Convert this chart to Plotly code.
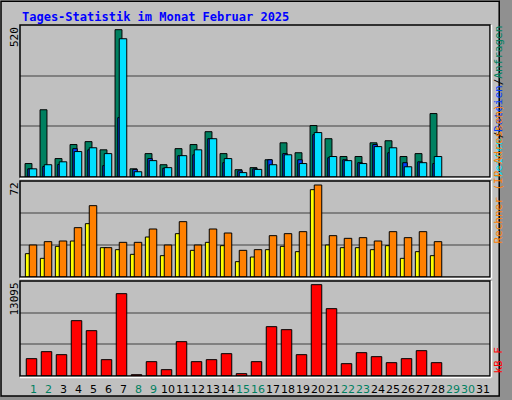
import plotly.graph_objects as go

days = list(range(1, 29))
anfragen = [46,230,63,111,121,93,504,28,80,42,97,111,155,80,25,32,59,117,83,176,131,70,70,117,124,70,80,217]
dateien  = [28,36,43,97,93,39,203,26,63,30,73,76,131,49,21,28,59,80,59,145,66,59,49,111,83,49,52,46]
seiten   = [28,42,52,87,100,80,473,18,56,32,73,93,131,63,15,26,42,76,46,152,70,56,46,104,100,35,49,70]
besuche  = [17.5,14,23,27,40,22,20.5,17,30,16,32.5,20,26,23.5,11.5,15,20.5,23,19,65.5,24,22,22,20.5,23.5,14,19,16]
rechner  = [24,26.5,27,37,53.5,22,26,26,36,24,41.5,24,36,33,20,20.5,31,32.5,34,69,31,29,29.5,27,34,29.5,34,26.5]
kbytes   = [2390,3354,2941,7628,6249,2252,11350,180,1976,873,4733,1976,2252,3079,322,1976,6800,6387,2941,12590,9282,1700,3217,2665,1838,2390,3492,1838]
day_labels = [str(d) for d in range(1, 32)]
weekend = {1,2,8,9,15,16,22,23,29,30}
max_top, max_mid, max_bot = 520, 72, 13095

W, H = 512, 400
def py(v): return 1 - v / H
x0, x1 = 0.113, 0.113 + 470/15

fig = go.Figure()
line = dict(color='black', width=1)
def bar(y, color, off, w, ax):
    fig.add_trace(go.Bar(x=days, y=y, offset=off, width=w, marker=dict(color=color, line=line),
                         xaxis='x', yaxis=ax, showlegend=False, hoverinfo='skip'))
bar(anfragen, '#008060', -0.55, 0.46, 'y')
bar(dateien, '#0040ff', -0.37, 0.3, 'y')
bar(seiten, '#00e0ff', -0.27, 0.5, 'y')
bar(besuche, '#ffff00', -0.53, 0.4, 'y2')
bar(rechner, '#ff8000', -0.27, 0.5, 'y2')
bar(kbytes, '#ff0000', -0.47, 0.7, 'y3')

panels = [(25, 177, max_top), (181, 277, max_mid), (281, 376, max_bot)]
ax_common = dict(showticklabels=False, gridcolor='#808080', gridwidth=1.5, zeroline=False, showline=False, fixedrange=True)
layout_axes = {}
for i, (t, b, m) in enumerate(panels):
    name = 'yaxis' if i == 0 else f'yaxis{i+1}'
    layout_axes[name] = dict(domain=[py(b), py(t)], range=[0, m], dtick=m/3, anchor='x', **ax_common)

shapes = [dict(type='rect', xref='paper', yref='paper', x0=0.975, x1=1, y0=0, y1=1, fillcolor='#909090', line=dict(width=0), layer='below'),
          dict(type='rect', xref='paper', yref='paper', x0=0, x1=1, y0=0, y1=0.01, fillcolor='#909090', line=dict(width=0), layer='below'),
          dict(type='rect', xref='paper', yref='paper', x0=0.002, x1=0.975, y0=0.01, y1=0.997,
               line=dict(color='black', width=1.5))]
for t, b, m in panels:
    shapes.append(dict(type='rect', xref='paper', yref='paper', x0=20/W, x1=490/W, y0=py(b), y1=py(t),
                       line=dict(color='black', width=1.5)))
    shapes.append(dict(type='line', xref='paper', yref='paper', x0=20/W, x1=491/W, y0=py(b+1.5), y1=py(b+1.5),
                       line=dict(color='white', width=1.5)))
    shapes.append(dict(type='line', xref='paper', yref='paper', x0=491.5/W, x1=491.5/W, y0=py(b+1.5), y1=py(t),
                       line=dict(color='white', width=1.5)))

ann = [dict(text='<b>Tages-Statistik im Monat Februar 2025</b>', x=20/W, y=py(8), xref='paper', yref='paper',
            xanchor='left', yanchor='top', showarrow=False, font=dict(family='DejaVu Sans Mono', size=12, color='#0000ff'))]
for (t, b, m) in panels:
    ann.append(dict(text=str(m), x=14/W, y=py(t), xref='paper', yref='paper', textangle=-90, xanchor='center',
                    yanchor='top', showarrow=False, font=dict(family='DejaVu Sans Mono', size=11, color='black')))
for i, lab in enumerate(day_labels):
    d = i + 1
    ann.append(dict(text=lab, x=d, y=py(389), xref='x', yref='paper', showarrow=False, xanchor='center', yanchor='middle',
                    font=dict(family='DejaVu Sans', size=11, color='#008060' if d in weekend else 'black')))
ann.append(dict(text="<span style='color:#00e0ff'>Seiten</span><span style='color:black'>/</span>"
                     "<span style='color:#0040ff'>Dateien</span><span style='color:black'>/</span>"
                     "<span style='color:#008060'>Anfragen</span>",
                x=498/W, y=py(24), xref='paper', yref='paper', textangle=-90, xanchor='center', yanchor='top',
                showarrow=False, font=dict(family='DejaVu Sans Mono', size=11)))
ann.append(dict(text='Rechner (IP-Adressen)', x=498/W, y=py(246), xref='paper', yref='paper', textangle=-90,
                xanchor='center', yanchor='bottom', showarrow=False, font=dict(family='DejaVu Sans Mono', size=11, color='#ff8000')))
ann.append(dict(text='kB F', x=498/W, y=py(376), xref='paper', yref='paper', textangle=-90,
                xanchor='center', yanchor='bottom', showarrow=False, font=dict(family='DejaVu Sans Mono', size=11, color='#ff0000')))

fig.update_layout(width=W, height=H, margin=dict(l=0, r=0, t=0, b=0), paper_bgcolor='#c0c0c0', plot_bgcolor='#c0c0c0',
                  barmode='overlay', xaxis=dict(domain=[20/W, 490/W], range=[x0, x1], showticklabels=False, showgrid=False,
                                                zeroline=False, fixedrange=True, anchor='y3'),
                  shapes=shapes, annotations=ann, **layout_axes)
fig.write_html('out.html', config={'displayModeBar': False},
               post_script="document.body.style.margin='0';document.body.style.overflow='hidden';")
